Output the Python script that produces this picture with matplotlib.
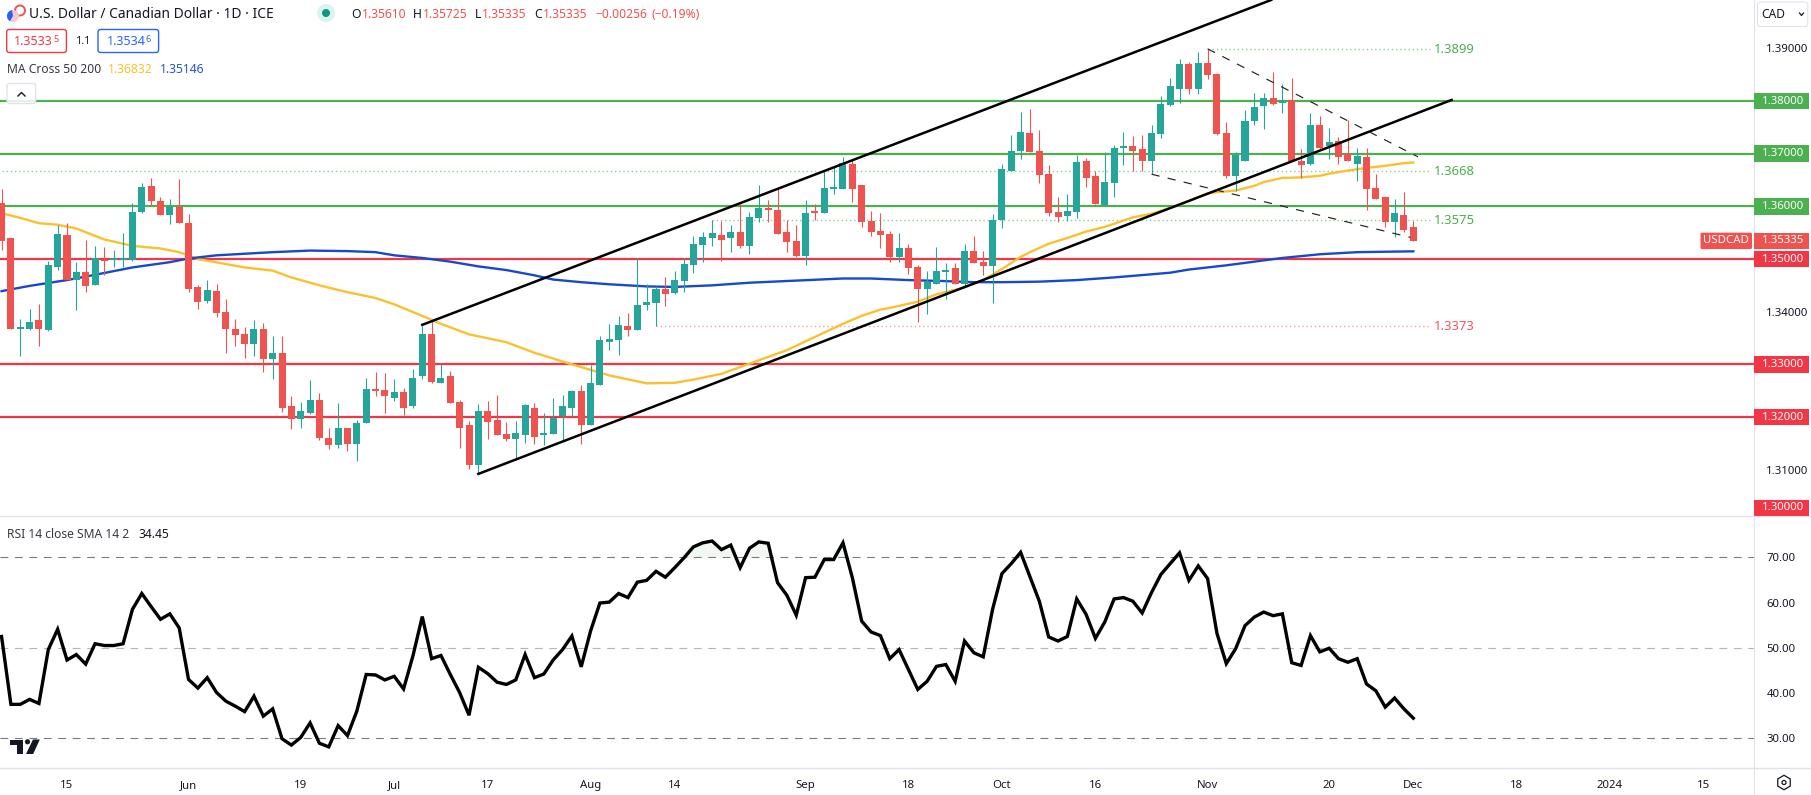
import numpy as np
import matplotlib
matplotlib.use("Agg")
import matplotlib.pyplot as plt
from matplotlib.patches import FancyBboxPatch, Rectangle, Circle, Polygon, RegularPolygon, Wedge

plt.rcParams['font.family'] = ['Noto Sans', 'DejaVu Sans']

# daily candles, USDCAD
opens = [1.3606,1.3539,1.3368,1.3368,1.3384,1.3365,1.3484,1.3545,1.3461,1.3475,
         1.3450,1.3499,1.3499,1.3499,1.3499,1.3589,1.3638,1.3611,1.3583,1.3598,
         1.3568,1.3446,1.3420,1.3439,1.3399,1.3368,1.3357,1.3338,1.3367,1.3310,
         1.3321,1.3220,1.3196,1.3207,1.3232,1.3160,1.3146,1.3180,1.3148,1.3188,
         1.3253,1.3251,1.3237,1.3247,1.3220,1.3277,1.3358,1.3265,1.3277,1.3229,
         1.3184,1.3108,1.3212,1.3195,1.3168,1.3159,1.3166,1.3218,1.3165,1.3168,
         1.3201,1.3218,1.3250,1.3184,1.3261,1.3343,1.3347,1.3372,1.3366,1.3413,
         1.3417,1.3444,1.3436,1.3459,1.3489,1.3527,1.3539,1.3545,1.3539,1.3551,
         1.3524,1.3577,1.3596,1.3594,1.3551,1.3534,1.3505,1.3592,1.3587,1.3632,
         1.3632,1.3680,1.3640,1.3572,1.3553,1.3547,1.3503,1.3520,1.3484,1.3444,
         1.3452,1.3475,1.3482,1.3452,1.3515,1.3494,1.3486,1.3574,1.3667,1.3705,
         1.3739,1.3705,1.3661,1.3589,1.3581,1.3589,1.3687,1.3657,1.3602,1.3644,
         1.3710,1.3714,1.3708,1.3686,1.3737,1.3792,1.3822,1.3870,1.3822,1.3872,
         1.3851,1.3739,1.3657,1.3686,1.3762,1.3790,1.3805,1.3796,1.3801,1.3687,
         1.3680,1.3754,1.3714,1.3724,1.3699,1.3680,1.3693,1.3634,1.3617,1.3570,1.3583,1.3561]
highs = [1.3632,1.3539,1.3387,1.3406,1.3414,1.3496,1.3564,1.3568,1.3494,1.3536,
         1.3524,1.3522,1.3518,1.3549,1.3606,1.3644,1.3653,1.3617,1.3613,1.3651,
         1.3585,1.3450,1.3461,1.3452,1.3425,1.3387,1.3370,1.3384,1.3378,1.3353,
         1.3353,1.3239,1.3228,1.3270,1.3245,1.3179,1.3226,1.3180,1.3194,1.3275,
         1.3285,1.3283,1.3273,1.3256,1.3292,1.3373,1.3385,1.3303,1.3288,1.3233,
         1.3193,1.3225,1.3231,1.3242,1.3191,1.3193,1.3225,1.3227,1.3208,1.3237,
         1.3242,1.3252,1.3260,1.3299,1.3353,1.3377,1.3392,1.3398,1.3501,1.3453,
         1.3449,1.3465,1.3478,1.3501,1.3544,1.3552,1.3575,1.3572,1.3564,1.3604,
         1.3589,1.3640,1.3612,1.3636,1.3575,1.3564,1.3612,1.3604,1.3668,1.3676,
         1.3693,1.3689,1.3640,1.3592,1.3587,1.3553,1.3549,1.3528,1.3488,1.3477,
         1.3522,1.3492,1.3492,1.3528,1.3543,1.3515,1.3585,1.3680,1.3735,1.3779,
         1.3784,1.3744,1.3678,1.3617,1.3623,1.3697,1.3691,1.3667,1.3703,1.3716,
         1.3741,1.3733,1.3735,1.3754,1.3809,1.3843,1.3879,1.3874,1.3893,1.3899,
         1.3853,1.3760,1.3703,1.3782,1.3815,1.3815,1.3855,1.3832,1.3843,1.3708,
         1.3777,1.3771,1.3748,1.3731,1.3763,1.3710,1.3710,1.3661,1.3619,1.3613,1.3627,1.35725]
lows = [1.3518,1.3368,1.3315,1.3365,1.3334,1.3363,1.3479,1.3460,1.3404,1.3437,
        1.3450,1.3469,1.3484,1.3484,1.3496,1.3587,1.3602,1.3583,1.3566,1.3568,
        1.3437,1.3406,1.3416,1.3389,1.3321,1.3334,1.3313,1.3315,1.3285,1.3272,
        1.3209,1.3177,1.3179,1.3205,1.3156,1.3139,1.3142,1.3135,1.3116,1.3188,
        1.3239,1.3207,1.3230,1.3203,1.3218,1.3273,1.3265,1.3265,1.3227,1.3142,
        1.3102,1.3092,1.3159,1.3165,1.3155,1.3119,1.3151,1.3149,1.3146,1.3168,
        1.3157,1.3201,1.3149,1.3184,1.3261,1.3328,1.3318,1.3354,1.3366,1.3404,
        1.3372,1.3411,1.3434,1.3438,1.3474,1.3495,1.3524,1.3496,1.3513,1.3520,
        1.3509,1.3570,1.3570,1.3547,1.3513,1.3503,1.3488,1.3575,1.3587,1.3623,
        1.3632,1.3608,1.3560,1.3543,1.3520,1.3494,1.3494,1.3471,1.3380,1.3395,
        1.3452,1.3424,1.3452,1.3446,1.3492,1.3469,1.3416,1.3558,1.3667,1.3689,
        1.3703,1.3644,1.3581,1.3570,1.3572,1.3577,1.3636,1.3604,1.3602,1.3617,
        1.3678,1.3668,1.3667,1.3661,1.3729,1.3790,1.3796,1.3813,1.3813,1.3841,
        1.3735,1.3653,1.3629,1.3686,1.3754,1.3746,1.3792,1.3777,1.3686,1.3653,
        1.3678,1.3708,1.3689,1.3680,1.3686,1.3649,1.3593,1.3613,1.3560,1.3541,1.3551,1.35335]
closes = [1.3535,1.3368,1.3370,1.3380,1.3367,1.3488,1.3547,1.3461,1.3475,1.3448,
          1.3501,1.3496,1.3501,1.3501,1.3589,1.3636,1.3610,1.3583,1.3598,1.3568,
          1.3444,1.3418,1.3441,1.3397,1.3368,1.3355,1.3338,1.3367,1.3310,1.3321,
          1.3218,1.3196,1.3211,1.3232,1.3160,1.3146,1.3180,1.3148,1.3188,1.3253,
          1.3249,1.3239,1.3247,1.3218,1.3275,1.3358,1.3267,1.3275,1.3227,1.3180,
          1.3108,1.3212,1.3191,1.3165,1.3159,1.3170,1.3222,1.3163,1.3170,1.3199,
          1.3220,1.3250,1.3184,1.3265,1.3347,1.3349,1.3375,1.3366,1.3413,1.3419,
          1.3444,1.3434,1.3461,1.3491,1.3529,1.3541,1.3549,1.3537,1.3551,1.3524,
          1.3579,1.3596,1.3594,1.3547,1.3532,1.3505,1.3587,1.3587,1.3634,1.3636,
          1.3682,1.3632,1.3570,1.3551,1.3545,1.3503,1.3520,1.3482,1.3443,1.3456,
          1.3477,1.3480,1.3452,1.3515,1.3492,1.3486,1.3575,1.3670,1.3706,1.3741,
          1.3703,1.3659,1.3587,1.3579,1.3591,1.3684,1.3653,1.3604,1.3646,1.3710,
          1.3714,1.3706,1.3687,1.3739,1.3794,1.3828,1.3870,1.3822,1.3872,1.3849,
          1.3737,1.3657,1.3697,1.3762,1.3788,1.3805,1.3794,1.3800,1.3686,1.3678,
          1.3754,1.3710,1.3722,1.3693,1.3686,1.3695,1.3632,1.3613,1.3570,1.3587,1.3556,1.35335]

# moving averages, read at these bars
ma50_bars = [0,2,4,6,8,11,14,17,19,21,26,29,31,34,37,40,42,45,47,50,54,57,61,65,69,72,74,77,84,87,90,92,94,95,98,
             100,103,105,107,109,110,112,114,116,118,121,123,125,127,129,130,132,134,135,137,139,141,142,144,146,148,150,151]
ma50_vals = [1.3587,1.3578,1.3568,1.3565,1.3558,1.3537,1.3525,1.3520,1.3513,1.3500,1.3484,1.3478,1.3465,1.3450,1.3437,
             1.3426,1.3414,1.3392,1.3377,1.3357,1.3342,1.3322,1.3300,1.3279,1.3264,1.3265,1.3271,1.3282,1.3327,1.3352,
             1.3377,1.3392,1.3404,1.3407,1.3419,1.3433,1.3446,1.3460,1.3481,1.3504,1.3513,1.3529,1.3540,1.3552,1.3561,
             1.3579,1.3586,1.3597,1.3610,1.3625,1.3627,1.3630,1.3639,1.3646,1.3654,1.3655,1.3658,1.3662,1.3668,1.3673,
             1.3677,1.3682,1.36832]
ma200_bars = [0,3,7,10,14,18,20,23,26,29,33,37,40,42,45,48,51,54,57,59,62,65,69,72,76,80,85,90,93,97,101,104,107,111,
              115,119,125,127,131,137,141,145,151]
ma200_vals = [1.3439,1.3449,1.3460,1.3470,1.3484,1.3494,1.3501,1.3507,1.3510,1.3513,1.3516,1.3515,1.3513,1.3507,1.3502,
              1.3495,1.3486,1.3479,1.3469,1.3461,1.3456,1.3452,1.3448,1.3447,1.3450,1.3455,1.3459,1.3463,1.3463,1.3460,
              1.3458,1.3456,1.3456,1.3457,1.3460,1.3465,1.3474,1.3480,1.3488,1.3502,1.3509,1.3513,1.35146]

rsi = [52.5,37.5,37.5,38.6,37.7,49.6,54.1,47.3,48.5,46.4,50.9,50.5,50.5,50.9,58.5,62.0,59.1,56.3,57.5,54.4,
       43.0,41.1,43.4,40.1,38.2,37.1,35.9,39.3,34.9,36.5,29.9,28.5,30.2,33.4,28.9,28.1,32.8,30.6,36.0,44.1,
       44.0,42.9,43.7,40.9,48.2,56.9,47.6,48.3,44.1,40.1,35.1,45.7,44.3,42.4,41.9,42.9,48.5,43.4,44.2,47.3,
       49.6,52.6,45.8,53.7,59.9,60.1,62.0,61.1,64.5,64.9,66.9,65.6,67.7,69.9,72.3,73.2,73.6,71.7,72.7,67.7,
       72.0,73.4,73.1,64.4,61.6,57.2,65.5,65.6,69.5,69.5,73.2,65.5,55.9,53.5,52.7,47.6,49.6,45.2,40.8,42.6,
       45.9,46.3,42.6,51.5,48.9,48.0,58.5,66.4,68.6,71.1,65.7,60.3,52.4,51.5,52.5,60.8,57.4,52.1,55.7,60.8,
       61.1,60.3,57.7,62.2,66.2,68.6,71.0,64.9,68.1,65.3,53.2,46.5,49.8,54.9,56.8,57.9,57.1,57.5,46.7,46.1,
       52.7,49.1,49.9,47.6,46.8,47.6,42.0,40.5,36.9,38.9,36.5,34.45]

green_levels = [1.38, 1.37, 1.36]
red_levels = [1.35, 1.33, 1.32, 1.30]
plain_prices = [1.39, 1.34, 1.31]
rsi_levels = [70, 50, 30]

fib_prices = [1.3899, 1.3668, 1.3575, 1.3373]
fib_labels = ['1.3899', '1.3668', '1.3575', '1.3373']
fib_start_bars = [129, 0, 76, 70]

channel_upper_bars, channel_upper_prices = [45, 135.8], [1.3375, 1.39918]
channel_lower_bars, channel_lower_prices = [51, 155.1], [1.3092, 1.3802]
wedge_upper_bars, wedge_upper_prices = [129, 151.5], [1.3899, 1.3694]
wedge_lower_bars, wedge_lower_prices = [123, 150.7], [1.3661, 1.3541]

time_ticks = [7, 20, 32, 42, 52, 63, 72, 86, 97, 107, 117, 129, 142, 151, 162, 172, 182]
time_labels = ['15', 'Jun', '19', 'Jul', '17', 'Aug', '14', 'Sep', '18', 'Oct', '16', 'Nov', '20', 'Dec', '18', '2024', '15']

UP = '#26a69a'
DOWN = '#ef5350'
LEVEL_GREEN = '#4caf50'
LEVEL_RED = '#f23645'
INK = '#131722'
BORDER = '#e0e3eb'

W, H = 1811, 795
AXIS_X = 1753.6
PANE_SPLIT = 516
PANE_BOTTOM = 768

fig = plt.figure(figsize=(W / 100, H / 100), dpi=100, facecolor='white')
ax = fig.add_axes([0, 1 - PANE_SPLIT / H, AXIS_X / W, PANE_SPLIT / H])
ax_rsi = fig.add_axes([0, 1 - PANE_BOTTOM / H, AXIS_X / W, (PANE_BOTTOM - PANE_SPLIT) / H], sharex=ax)

bars = np.arange(len(closes))
o, h, l, c = map(np.array, (opens, highs, lows, closes))
colors = np.where(c >= o, UP, DOWN)

xlim = (-0.166, 187.4)

# levels
for p in green_levels:
    ax.axhline(p, color=LEVEL_GREEN, lw=1.6, zorder=1)
for p in red_levels:
    ax.axhline(p, color=LEVEL_RED, lw=1.6, zorder=1)
fib_end = (1430 - 1.55) / 9.35
for p, lab, b in zip(fib_prices, fib_labels, fib_start_bars):
    col = '#f7a1a8' if p < 1.34 else '#8fcf92'
    tcol = '#f2555f' if p < 1.34 else LEVEL_GREEN
    ax.plot([b, fib_end], [p, p], color=col, lw=1.0, ls=(0, (1, 2)), zorder=1)
    ax.annotate(lab, (fib_end, p), xytext=(3, -0.7), textcoords='offset points',
                color=tcol, fontsize=9.4, va='center', ha='left')

# moving averages sit under the candles
ax.plot(ma50_bars, ma50_vals, color='#fbc02d', lw=1.7, zorder=2)
ax.plot(ma200_bars, ma200_vals, color='#1848cc', lw=1.7, zorder=2)

# candles
ax.vlines(bars, l, h, colors=colors, lw=0.8, zorder=3)
ax.bar(bars, np.maximum(np.abs(c - o), 0.00018), bottom=np.minimum(o, c), width=0.75, color=colors, zorder=3, linewidth=0)

# drawings
ax.plot(channel_upper_bars, channel_upper_prices, color='black', lw=1.8, zorder=4)
ax.plot(channel_lower_bars, channel_lower_prices, color='black', lw=1.8, zorder=4)
ax.plot(wedge_upper_bars, wedge_upper_prices, color='#222222', lw=0.85, ls=(0, (7, 7)), zorder=4)
ax.plot(wedge_lower_bars, wedge_lower_prices, color='#222222', lw=0.85, ls=(0, (7, 7)), zorder=4)

ax.set_xlim(*xlim)
ax.set_ylim(1.38 - (PANE_SPLIT - 101) / 5267, 1.38 + 101 / 5267)
ax.set_yticks(plain_prices)
ax.set_yticklabels([f'{p:.5f}' for p in plain_prices])
ax.tick_params(axis='y', left=False, right=False, labelleft=False, labelright=True, pad=5.7, labelsize=8.2, labelcolor=INK)
ax.tick_params(axis='x', bottom=False, labelbottom=False)
for s in ax.spines.values():
    s.set_visible(False)

# rsi pane
for lev in rsi_levels:
    ax_rsi.axhline(lev, color='#b2b5be' if lev == 50 else '#787b86', lw=0.8, ls=(0, (7, 6)), zorder=1)
rsi_arr = np.array(rsi)
ax_rsi.fill_between(bars, rsi_arr, 70, where=rsi_arr > 70, interpolate=True, color='#4caf50', alpha=0.08, lw=0, zorder=1)
ax_rsi.plot(bars, rsi, color='black', lw=2.4, solid_joinstyle='miter', zorder=3)
ax_rsi.set_ylim(30 - (PANE_BOTTOM - 738.3) / 4.525, 70 + (557.3 - PANE_SPLIT) / 4.525)
ax_rsi.set_yticks([70, 60, 50, 40, 30])
ax_rsi.set_yticklabels(['70.00', '60.00', '50.00', '40.00', '30.00'])
ax_rsi.tick_params(axis='y', left=False, right=False, labelleft=False, labelright=True, pad=5.7, labelsize=8.2, labelcolor=INK)
ax_rsi.set_xticks(time_ticks)
ax_rsi.set_xticklabels(time_labels)
ax_rsi.tick_params(axis='x', bottom=False, pad=5, labelsize=8.2, labelcolor=INK)
for t in ax_rsi.get_xticklabels():
    if t.get_text() == '2024':
        t.set_fontweight('bold')
for s in ax_rsi.spines.values():
    s.set_visible(False)

# overlay in pixels for the chart furniture
ui = fig.add_axes([0, 0, 1, 1], zorder=10)
ui.set_xlim(0, W)
ui.set_ylim(H, 0)
ui.axis('off')


def box(x0, y0, x1, y1, fc='white', ec='none', lw=0.8, r=2.5, z=5):
    ui.add_patch(FancyBboxPatch((x0, y0), x1 - x0, y1 - y0, boxstyle=f'round,pad=0,rounding_size={r}',
                                fc=fc, ec=ec, lw=lw, zorder=z))


def label(x, y, s, color=INK, size=8.7, **kw):
    ui.text(x, y, s, color=color, fontsize=size, va='center', ha=kw.pop('ha', 'left'), zorder=6, **kw)


def price_px(p):
    return H - ax.transData.transform((0, p))[1]


ui.plot([AXIS_X, AXIS_X], [0, H], color=BORDER, lw=0.8, zorder=4)
ui.plot([0, W], [PANE_SPLIT, PANE_SPLIT], color=BORDER, lw=1.0, zorder=4)
ui.plot([0, W], [PANE_BOTTOM, PANE_BOTTOM], color=BORDER, lw=1.0, zorder=4)

# price tags on the axis
for p in green_levels + red_levels:
    y = min(price_px(p), 508)
    col = LEVEL_GREEN if p in green_levels else LEVEL_RED
    ui.add_patch(Rectangle((AXIS_X, y - 8.2), 1809 - AXIS_X, 16.4, fc=col, ec='none', zorder=5))
    label(1761.5, y, f'{p:.5f}', color='white', size=8.2)
y_last = price_px(closes[-1]) - 0.5
ui.add_patch(Rectangle((AXIS_X, y_last - 8.2), 1809 - AXIS_X, 16.4, fc=DOWN, ec='none', zorder=5))
label(1761.5, y_last, f'{closes[-1]:.5f}', color='white', size=8.2)
box(1700.5, y_last - 8.2, 1752, y_last + 8.2, fc=DOWN, r=1.5)
label(1726, y_last, 'USDCAD', color='white', size=8.2, ha='center')

# currency button
box(1757.5, 2, 1807.8, 26.5, ec=BORDER, r=3)
label(1761, 14, 'CAD', size=8.6)
ui.plot([1799.5, 1801.5, 1803.5], [13, 15.5, 13], color=INK, lw=0.9, zorder=6)

# header
ui.add_patch(Circle((20, 10.5), 5, fc='white', ec='#ef5350', lw=1.4, zorder=5))
ui.add_patch(Circle((13, 16), 6, fc='#f7c9c9', ec='none', zorder=6))
ui.add_patch(Wedge((13, 16), 6, 120, 260, fc='#2962ff', ec='none', zorder=7))
label(29, 14, 'U.S. Dollar / Canadian Dollar · 1D · ICE', size=9.9)
ui.add_patch(Circle((326, 13), 9, fc='#e0f2ef', ec='none', zorder=5))
ui.add_patch(Circle((326, 13), 4, fc='#089981', ec='none', zorder=6))
ohlc_letters = ['O', 'H', 'L', 'C']
ohlc_text = ['1.35610', '1.35725', '1.35335', '1.35335']
for letter, lx, txt, tx in zip(ohlc_letters, [351.5, 413, 474.5, 534], ohlc_text, [362, 423, 482, 542.5]):
    label(lx, 14, letter)
    label(tx, 14, txt, color=DOWN)
label(595, 14, '−0.00256', color=DOWN)
label(651, 14, '(−0.19%)', color=DOWN)

# bid / ask boxes
box(6.7, 29.5, 66.4, 52.5, ec=LEVEL_RED, lw=1.0)
label(14, 41.5, '1.3533', color=LEVEL_RED, size=9)
label(53.2, 40, '5', color=LEVEL_RED, size=6.6)
label(75, 41.5, '1.1', size=8)
box(98, 29.5, 158.6, 52.5, ec='#2962ff', lw=1.0)
label(107, 41.5, '1.3534', color='#2962ff', size=9)
label(146, 40, '6', color='#2962ff', size=6.6)

label(7, 69.5, 'MA Cross 50 200', size=8.7, alpha=0.85)
label(108, 69.5, '1.36832', color='#fbc02d')
label(160, 69.5, '1.35146', color='#2451c9')

# collapse button
box(7, 83.5, 35.6, 103.5, fc=(1, 1, 1, 0.85), ec=BORDER, lw=1.0, r=2.5)
ui.plot([18, 21.5, 25], [96, 92.5, 96], color=INK, lw=1.0, zorder=6)

# rsi legend
label(7, 534, 'RSI 14 close SMA 14 2', size=8.7, alpha=0.85)
label(138.8, 534, '34.45')

# tradingview mark
ui.add_patch(Polygon([(9.5, 739.5), (23, 739.5), (23, 754), (17, 754), (17, 745.2), (9.5, 745.2)], fc=INK, ec='none', zorder=6))
ui.add_patch(Circle((27.5, 741.8), 2.6, fc=INK, ec='none', zorder=6))
ui.add_patch(Polygon([(33, 739.5), (39.8, 739.5), (33.2, 754), (26, 754)], fc=INK, ec='none', zorder=6))

# settings icon
ui.add_patch(RegularPolygon((1784, 782.5), 6, radius=7.2, fc='white', ec=INK, lw=0.9, zorder=6))
ui.add_patch(Circle((1784, 782.5), 2, fc='white', ec=INK, lw=0.9, zorder=7))

fig.savefig('out.png', dpi=100, facecolor='white')
